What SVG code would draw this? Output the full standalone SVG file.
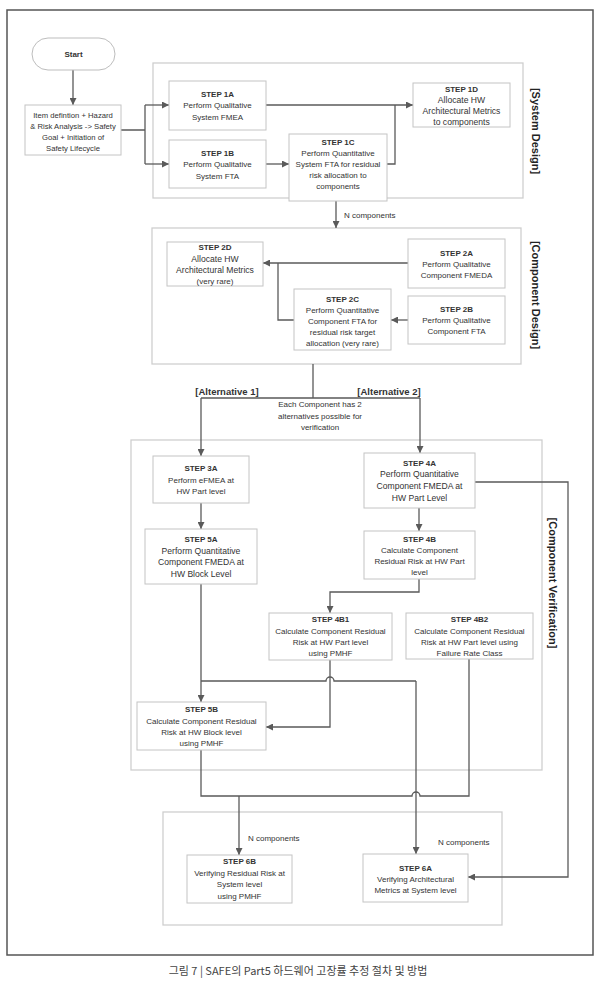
<svg xmlns="http://www.w3.org/2000/svg" width="600" height="984" viewBox="0 0 600 984">
<style>
text{font-family:"Liberation Sans",Arial,sans-serif;fill:#333;text-anchor:middle;font-size:8px}
.b{font-weight:bold}
.a{font-size:8.6px}
.it{font-size:7.7px}
.sec{fill:none;stroke:#cfcfcf;stroke-width:1.3}
.box{fill:#fff;stroke:#c4c4c4;stroke-width:1}
.c{fill:none;stroke:#5a5a5a;stroke-width:1.3}
.ca{fill:none;stroke:#5a5a5a;stroke-width:1.3;marker-end:url(#ah)}
.vl{font-size:11px;font-weight:bold;fill:#222;dominant-baseline:central}
.lbl{text-anchor:start}
</style>
<defs>
<marker id="ah" viewBox="0 0 10 10" refX="10" refY="5" markerWidth="8" markerHeight="7" orient="auto" markerUnits="userSpaceOnUse"><path d="M0,0 L10,5 L0,10 z" fill="#5a5a5a"/></marker>
</defs>
<rect width="600" height="984" fill="#fff"/>
<rect x="7" y="10" width="586" height="945" fill="none" stroke="#555" stroke-width="1.5"/>
<g id="sections">
<rect class="sec" x="153" y="63" width="370" height="135"/>
<rect class="sec" x="152" y="228" width="369" height="136"/>
<rect class="sec" x="131" y="440" width="411" height="330"/>
<rect class="sec" x="163" y="812" width="339" height="113"/>
<text class="vl" transform="translate(536,131) rotate(90)">[System Design]</text>
<text class="vl" transform="translate(536,295) rotate(90)">[Component Design]</text>
<text class="vl" transform="translate(553,583) rotate(90)">[Component Verification]</text>
</g>
<g id="connectors">
<path class="ca" d="M73,70 V105"/>
<path class="c" d="M121,130 H145 M145,105 V164"/>
<path class="ca" d="M145,105 H169"/>
<path class="ca" d="M145,164 H169"/>
<path class="ca" d="M266,164 H289"/>
<path class="ca" d="M266,105 H413"/>
<path class="c" d="M387,164 H395 V105"/>
<path class="ca" d="M336,201 V228"/>
<path class="ca" d="M408,263 H263"/>
<path class="c" d="M294,320 H278 V263"/>
<path class="ca" d="M408,320 H391"/>
<path class="c" d="M313,364 V398 M201,398 H420"/>
<path class="ca" d="M201,398 V456"/>
<path class="ca" d="M420,398 V453"/>
<path class="ca" d="M201,503 V529"/>
<path class="ca" d="M201,584 V702"/>
<path class="c" d="M201,681 H326 A4,4 0 0 1 334,681 H416"/>
<path class="ca" d="M416,681 V854"/>
<path class="c" d="M201,750 V796 H412 A4,4 0 0 1 420,796 H469 V659"/>
<path class="ca" d="M239,796 V855"/>
<path class="ca" d="M419,508 V531"/>
<path class="ca" d="M419,579 V592 H330 V613"/>
<path class="ca" d="M330,660 V727 H266"/>
<path class="ca" d="M475,482 H568 V877 H468"/>
<text class="lbl" x="344" y="218">N components</text>
<text class="b" x="227" y="395" style="font-size:9.5px">[Alternative 1]</text>
<text class="b" x="389" y="395" style="font-size:9.5px">[Alternative 2]</text>
<text x="320" y="407">Each Component has 2</text>
<text x="320" y="418.5">alternatives possible for</text>
<text x="320" y="430">verification</text>
<text class="lbl" x="248" y="841">N components</text>
<text class="lbl" x="438" y="845">N components</text>
</g>
<g id="start">
<rect x="32" y="38" width="83" height="32" rx="16" fill="#fff" stroke="#bdbdbd"/>
<text class="b" x="73.5" y="57">Start</text>
</g>
<g id="item">
<rect class="box" x="25" y="105" width="96" height="50"/>
<text class="it" x="73" y="118">Item defintion + Hazard</text>
<text class="it" x="73" y="129">&amp; Risk Analysis -&gt; Safety</text>
<text class="it" x="73" y="140">Goal + Initiation of</text>
<text class="it" x="73" y="151">Safety Lifecycle</text>
</g>
<g id="step1a">
<rect class="box" x="169" y="81" width="97" height="49"/>
<text class="b" x="217.5" y="97">STEP 1A</text>
<text x="217.5" y="108">Perform Qualitative</text>
<text x="217.5" y="120">System FMEA</text>
</g>
<g id="step1b">
<rect class="box" x="169" y="140" width="97" height="48"/>
<text class="b" x="217.5" y="156">STEP 1B</text>
<text x="217.5" y="167">Perform Qualitative</text>
<text x="217.5" y="179">System  FTA</text>
</g>
<g id="step1c">
<rect class="box" x="289" y="134" width="98" height="67"/>
<text class="b" x="338" y="145">STEP 1C</text>
<text x="338" y="155.5">Perform Quantitative</text>
<text x="338" y="166.5">System FTA for residual</text>
<text x="338" y="177.5">risk allocation to</text>
<text x="338" y="189">components</text>
</g>
<g id="step1d">
<rect class="box" x="413" y="83" width="97" height="44"/>
<text class="b" x="461.5" y="92">STEP 1D</text>
<text class="a" x="461.5" y="103">Allocate HW</text>
<text class="a" x="461.5" y="114">Architectural Metrics</text>
<text class="a" x="461.5" y="125">to components</text>
</g>
<g id="step2d">
<rect class="box" x="167" y="242" width="96" height="44"/>
<text class="b" x="215" y="250">STEP 2D</text>
<text class="a" x="215" y="261.5">Allocate HW</text>
<text class="a" x="215" y="272.5">Architectural Metrics</text>
<text x="215" y="284">(very rare)</text>
</g>
<g id="step2c">
<rect class="box" x="294" y="289" width="97" height="61"/>
<text class="b" x="342.5" y="302">STEP 2C</text>
<text x="342.5" y="313">Perform Quantitative</text>
<text x="342.5" y="323.5">Component  FTA for</text>
<text x="342.5" y="334.5">residual risk target</text>
<text x="342.5" y="345.5">allocation (very rare)</text>
</g>
<g id="step2a">
<rect class="box" x="408" y="239" width="97" height="49"/>
<text class="b" x="456.5" y="256">STEP 2A</text>
<text x="456.5" y="266.5">Perform Qualitative</text>
<text x="456.5" y="277.5">Component FMEDA</text>
</g>
<g id="step2b">
<rect class="box" x="408" y="296" width="97" height="48"/>
<text class="b" x="456.5" y="312">STEP 2B</text>
<text x="456.5" y="323">Perform Qualitative</text>
<text x="456.5" y="334">Component  FTA</text>
</g>
<g id="step3a">
<rect class="box" x="153" y="456" width="96" height="47"/>
<text class="b" x="201" y="471">STEP 3A</text>
<text x="201" y="483">Perform eFMEA at</text>
<text x="201" y="494">HW Part level</text>
</g>
<g id="step5a">
<rect class="box" x="145" y="529" width="112" height="55"/>
<text class="b" x="201" y="542">STEP 5A</text>
<text class="a" x="201" y="553.5">Perform Quantitative</text>
<text class="a" x="201" y="565">Component FMEDA at</text>
<text class="a" x="201" y="577">HW Block Level</text>
</g>
<g id="step4a">
<rect class="box" x="364" y="453" width="111" height="55"/>
<text class="b" x="419.5" y="466">STEP 4A</text>
<text class="a" x="419.5" y="477">Perform Quantitative</text>
<text class="a" x="419.5" y="489">Component FMEDA at</text>
<text class="a" x="419.5" y="501">HW Part Level</text>
</g>
<g id="step4b">
<rect class="box" x="364" y="531" width="111" height="48"/>
<text class="b" x="419.5" y="542">STEP 4B</text>
<text x="419.5" y="553">Calculate Component</text>
<text x="419.5" y="564">Residual Risk at HW Part</text>
<text x="419.5" y="575">level</text>
</g>
<g id="step4b1">
<rect class="box" x="269" y="613" width="123" height="47"/>
<text class="b" x="330.5" y="622">STEP 4B1</text>
<text x="330.5" y="634">Calculate Component Residual</text>
<text x="330.5" y="645">Risk at HW Part level</text>
<text x="330.5" y="656">using PMHF</text>
</g>
<g id="step4b2">
<rect class="box" x="406" y="613" width="127" height="46"/>
<text class="b" x="469.5" y="622">STEP 4B2</text>
<text x="469.5" y="634">Calculate Component Residual</text>
<text x="469.5" y="645">Risk at HW Part level using</text>
<text x="469.5" y="656">Failure Rate Class</text>
</g>
<g id="step5b">
<rect class="box" x="137" y="702" width="129" height="48"/>
<text class="b" x="201.5" y="712">STEP 5B</text>
<text x="201.5" y="724">Calculate Component Residual</text>
<text x="201.5" y="735">Risk at HW Block level</text>
<text x="201.5" y="746">using PMHF</text>
</g>
<g id="step6b">
<rect class="box" x="187" y="855" width="105" height="48"/>
<text class="b" x="239.5" y="864">STEP 6B</text>
<text x="239.5" y="876">Verifying  Residual Risk at</text>
<text x="239.5" y="887">System level</text>
<text x="239.5" y="899">using PMHF</text>
</g>
<g id="step6a">
<rect class="box" x="363" y="854" width="105" height="48"/>
<text class="b" x="415.5" y="871">STEP 6A</text>
<text x="415.5" y="881.5">Verifying Architectural</text>
<text x="415.5" y="892.5">Metrics at System level</text>
</g>
<text x="298" y="975" style="font-family:'Noto Sans CJK KR','Liberation Sans',sans-serif;font-size:11px;fill:#444">그림 7 |  SAFE의 Part5 하드웨어 고장률 추정 절차 및 방법</text>
</svg>
